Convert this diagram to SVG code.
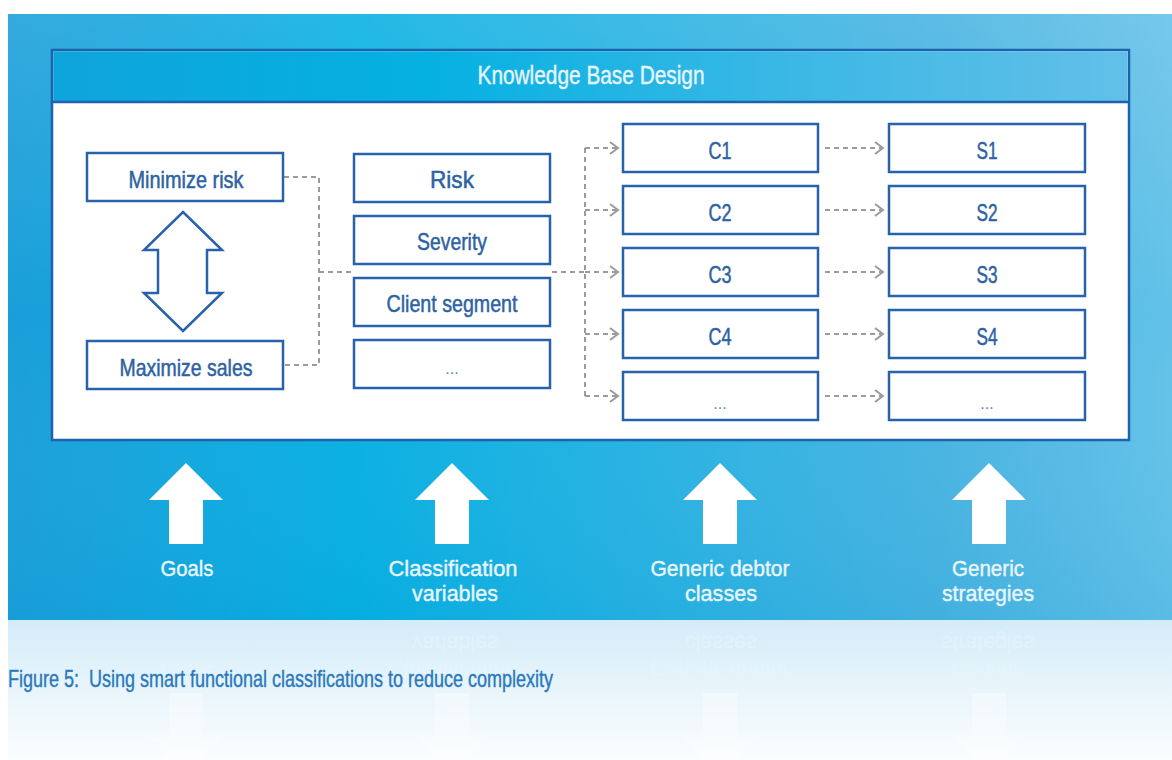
<svg xmlns="http://www.w3.org/2000/svg" xmlns:xlink="http://www.w3.org/1999/xlink" width="1172" height="760" viewBox="0 0 1172 760">
<defs>
<style>
.box{fill:#ffffff;stroke:#2762aa;stroke-width:2.5}
.bt{font-family:"Liberation Sans Narrow","Liberation Sans",Arial,sans-serif;font-size:24px;fill:#2d62a3;stroke:#2d62a3;stroke-width:0.5;text-anchor:middle}
.dots{font-family:"Liberation Sans Narrow","Liberation Sans",Arial,sans-serif;font-size:16px;fill:#5f86bb;text-anchor:middle}
.dash{fill:none;stroke:#9b9b9b;stroke-width:2;stroke-dasharray:5 4}
.arr{marker-end:url(#chev)}
.lbl{font-family:"Liberation Sans Narrow","Liberation Sans",Arial,sans-serif;font-size:22px;fill:#e8f6fc;stroke:#e8f6fc;stroke-width:0.4;text-anchor:middle}
.up{fill:#ffffff}
</style>
<marker id="chev" markerUnits="userSpaceOnUse" markerWidth="12" markerHeight="14" refX="8" refY="6" orient="auto" viewBox="-1 -1 12 14">
<path d="M0,0 L8,6 L0,12" fill="none" stroke="#9b9b9b" stroke-width="2"/>
</marker>
<linearGradient id="bgBlue" x1="0" y1="0" x2="1" y2="0">
<stop offset="0" stop-color="#1a9ed9"/>
<stop offset="0.3" stop-color="#06b0e2"/>
<stop offset="0.55" stop-color="#26b2e2"/>
<stop offset="0.8" stop-color="#47b3e1"/>
<stop offset="1" stop-color="#62c1e8"/>
</linearGradient>
<linearGradient id="bgShade" x1="0" y1="0" x2="0" y2="1">
<stop offset="0" stop-color="#ffffff" stop-opacity="0.12"/>
<stop offset="0.5" stop-color="#ffffff" stop-opacity="0"/>
<stop offset="1" stop-color="#0a8fc8" stop-opacity="0.1"/>
</linearGradient>
<linearGradient id="hdr" x1="0" y1="0" x2="1" y2="0">
<stop offset="0" stop-color="#0ea4dc"/>
<stop offset="0.35" stop-color="#05b1e2"/>
<stop offset="0.7" stop-color="#3db8e5"/>
<stop offset="1" stop-color="#62c0e8"/>
</linearGradient>
<linearGradient id="floor" x1="0" y1="0" x2="0" y2="1">
<stop offset="0" stop-color="#d4ecf8"/>
<stop offset="0.5" stop-color="#e8f5fb"/>
<stop offset="1" stop-color="#fbfdfe"/>
</linearGradient>
<linearGradient id="fadeG" x1="0" y1="0" x2="0" y2="1">
<stop offset="0" stop-color="#ffffff" stop-opacity="0.8"/>
<stop offset="1" stop-color="#ffffff" stop-opacity="0.4"/>
</linearGradient>
<mask id="fade" maskUnits="userSpaceOnUse" x="0" y="620" width="1172" height="140">
<rect x="0" y="620" width="1172" height="140" fill="url(#fadeG)"/>
</mask>
</defs>

<rect x="0" y="0" width="1172" height="760" fill="#ffffff"/>
<rect x="8" y="14" width="1164" height="606" fill="url(#bgBlue)"/>
<rect x="8" y="14" width="1164" height="606" fill="url(#bgShade)"/>
<rect x="8" y="620" width="1164" height="140" fill="url(#floor)"/>

<g id="frame">
<rect x="52" y="50" width="1077" height="390" fill="#ffffff" stroke="#1c62ad" stroke-width="2.5"/>
<rect x="53.25" y="51.25" width="1074.5" height="50.5" fill="url(#hdr)"/>
<line x1="52" y1="102" x2="1129" y2="102" stroke="#1c62ad" stroke-width="2.5"/>
<text x="591" y="84" font-family="'Liberation Sans Narrow','Liberation Sans',Arial,sans-serif" font-size="26" fill="#e6f5fc" stroke="#e6f5fc" stroke-width="0.4" text-anchor="middle" textLength="227" lengthAdjust="spacingAndGlyphs">Knowledge Base Design</text>
</g>

<g id="connectors">
<polyline class="dash" points="284,177 319,177 319,365 284,365"/>
<line class="dash" x1="319" y1="272" x2="353" y2="272"/>
<line class="dash" x1="552" y1="272" x2="585" y2="272"/>
<line class="dash" x1="585" y1="148" x2="585" y2="396"/>
<line class="dash arr" x1="585" y1="148" x2="618" y2="148"/>
<line class="dash arr" x1="585" y1="210" x2="618" y2="210"/>
<line class="dash arr" x1="585" y1="272" x2="618" y2="272"/>
<line class="dash arr" x1="585" y1="334" x2="618" y2="334"/>
<line class="dash arr" x1="585" y1="396" x2="618" y2="396"/>
<line class="dash arr" x1="825" y1="148" x2="883" y2="148"/>
<line class="dash arr" x1="825" y1="210" x2="883" y2="210"/>
<line class="dash arr" x1="825" y1="272" x2="883" y2="272"/>
<line class="dash arr" x1="825" y1="334" x2="883" y2="334"/>
<line class="dash arr" x1="825" y1="396" x2="883" y2="396"/>
</g>

<g id="goal-minimize-risk"><rect class="box" x="87" y="153" width="196" height="48"/><text class="bt" x="186" y="188" textLength="115" lengthAdjust="spacingAndGlyphs">Minimize risk</text></g>
<g id="goal-maximize-sales"><rect class="box" x="87" y="341" width="196" height="48"/><text class="bt" x="186" y="376" textLength="133" lengthAdjust="spacingAndGlyphs">Maximize sales</text></g>
<g id="tradeoff-arrow"><polygon points="183,212 222,250 207,250 207,293 222,293 183,331 144,293 158,293 158,250 144,250" fill="#ffffff" stroke="#2762aa" stroke-width="2.5" stroke-linejoin="miter"/></g>

<g id="var-risk"><rect class="box" x="354" y="154" width="196" height="48"/><text class="bt" x="452" y="188" textLength="44" lengthAdjust="spacingAndGlyphs">Risk</text></g>
<g id="var-severity"><rect class="box" x="354" y="216" width="196" height="48"/><text class="bt" x="452" y="250" textLength="70" lengthAdjust="spacingAndGlyphs">Severity</text></g>
<g id="var-client-segment"><rect class="box" x="354" y="278" width="196" height="48"/><text class="bt" x="452" y="312" textLength="131" lengthAdjust="spacingAndGlyphs">Client segment</text></g>
<g id="var-more"><rect class="box" x="354" y="340" width="196" height="48"/><text class="dots" x="452" y="374">...</text></g>

<g id="class-c1"><rect class="box" x="623" y="124" width="195" height="48"/><text class="bt" x="720" y="159" textLength="23" lengthAdjust="spacingAndGlyphs">C1</text></g>
<g id="class-c2"><rect class="box" x="623" y="186" width="195" height="48"/><text class="bt" x="720" y="221" textLength="23" lengthAdjust="spacingAndGlyphs">C2</text></g>
<g id="class-c3"><rect class="box" x="623" y="248" width="195" height="48"/><text class="bt" x="720" y="283" textLength="23" lengthAdjust="spacingAndGlyphs">C3</text></g>
<g id="class-c4"><rect class="box" x="623" y="310" width="195" height="48"/><text class="bt" x="720" y="345" textLength="23" lengthAdjust="spacingAndGlyphs">C4</text></g>
<g id="class-more"><rect class="box" x="623" y="372" width="195" height="48"/><text class="dots" x="720" y="409">...</text></g>

<g id="strat-s1"><rect class="box" x="889" y="124" width="196" height="48"/><text class="bt" x="987" y="159" textLength="21" lengthAdjust="spacingAndGlyphs">S1</text></g>
<g id="strat-s2"><rect class="box" x="889" y="186" width="196" height="48"/><text class="bt" x="987" y="221" textLength="21" lengthAdjust="spacingAndGlyphs">S2</text></g>
<g id="strat-s3"><rect class="box" x="889" y="248" width="196" height="48"/><text class="bt" x="987" y="283" textLength="21" lengthAdjust="spacingAndGlyphs">S3</text></g>
<g id="strat-s4"><rect class="box" x="889" y="310" width="196" height="48"/><text class="bt" x="987" y="345" textLength="21" lengthAdjust="spacingAndGlyphs">S4</text></g>
<g id="strat-more"><rect class="box" x="889" y="372" width="196" height="48"/><text class="dots" x="987" y="409">...</text></g>

<g id="bottom-set">
<g id="input-goals"><polygon class="up" points="186,463 223,500 203,500 203,544 169,544 169,500 149,500"/><text class="lbl" x="187" y="576" textLength="53" lengthAdjust="spacingAndGlyphs">Goals</text></g>
<g id="input-variables"><polygon class="up" points="452,463 489,500 469,500 469,544 435,544 435,500 415,500"/><text class="lbl"><tspan x="453" y="576" textLength="129" lengthAdjust="spacingAndGlyphs">Classification</tspan><tspan x="455" y="601" textLength="86" lengthAdjust="spacingAndGlyphs">variables</tspan></text></g>
<g id="input-classes"><polygon class="up" points="720,463 757,500 737,500 737,544 703,544 703,500 683,500"/><text class="lbl"><tspan x="720" y="576" textLength="139" lengthAdjust="spacingAndGlyphs">Generic debtor</tspan><tspan x="721" y="601" textLength="72" lengthAdjust="spacingAndGlyphs">classes</tspan></text></g>
<g id="input-strategies"><polygon class="up" points="989,463 1026,500 1006,500 1006,544 972,544 972,500 952,500"/><text class="lbl"><tspan x="988" y="576" textLength="72" lengthAdjust="spacingAndGlyphs">Generic</tspan><tspan x="988" y="601" textLength="92" lengthAdjust="spacingAndGlyphs">strategies</tspan></text></g>
</g>

<g id="reflection" mask="url(#fade)" opacity="0.6">
<use xlink:href="#bottom-set" href="#bottom-set" transform="matrix(1,0,0,-1,0,1237)"/>
</g>

<text x="8" y="687" font-family="'Liberation Sans Narrow','Liberation Sans',Arial,sans-serif" font-size="24" fill="#2b78bd" stroke="#2b78bd" stroke-width="0.4" style="white-space:pre" textLength="545" lengthAdjust="spacingAndGlyphs">Figure 5:  Using smart functional classifications to reduce complexity</text>
</svg>
